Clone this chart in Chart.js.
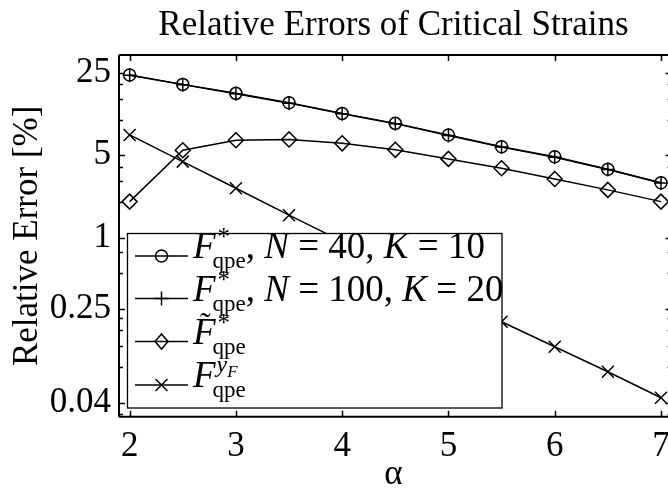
<!DOCTYPE html>
<html><head><meta charset="utf-8">
<script src="https://cdn.jsdelivr.net/npm/chart.js@4/dist/chart.umd.min.js"></script>
<style>html,body{margin:0;padding:0;background:#fff;}canvas{display:block;}</style>
</head><body>
<canvas id="c" width="668" height="489"></canvas>
<script>
// ---- data ----
const alpha = [2, 2.5, 3, 3.5, 4, 4.5, 5, 5.5, 6, 6.5, 7];
const errQpeN40K10  = [23.9, 19.9, 16.7, 13.9, 11.3, 9.3, 7.4, 5.9, 4.85, 3.8, 2.92];
const errQpeN100K20 = [23.8, 19.8, 16.6, 13.8, 11.2, 9.25, 7.35, 5.85, 4.8, 3.78, 2.9];
const errQpeTilde   = [2.02, 5.5, 6.7, 6.8, 6.3, 5.55, 4.65, 3.87, 3.14, 2.54, 2.02];
const errQpeYF      = [7.42, 4.41, 2.62, 1.55, 0.93, 0.55, 0.32, 0.194, 0.119, 0.073, 0.044];
const xTickValues = [2, 3, 4, 5, 6, 7];
const yTickValues = [0.04, 0.25, 1, 5, 25];
const yMinorTickValues = [20, 15, 10, 4, 3, 2, 0.75, 0.5, 0.21, 0.165, 0.12, 0.08, 0.032];
const seriesLabels = ['F*qpe, N = 40, K = 10', 'F*qpe, N = 100, K = 20', 'F̃*qpe', 'F^yF qpe'];
const titleText = 'Relative Errors of Critical Strains';
const xTitle = 'α';
const yTitle = 'Relative Error [%]';

const FAM = '"Liberation Serif", "Times New Roman", serif';
const toXY = arr => alpha.map((a, i) => ({x: a, y: arr[i]}));

function drawMarker(ctx, style, x, y) {
  ctx.beginPath();
  if (style === 'circle') { ctx.arc(x, y, 6, 0, Math.PI * 2); }
  else if (style === 'cross') { ctx.moveTo(x - 7, y); ctx.lineTo(x + 7, y); ctx.moveTo(x, y - 7); ctx.lineTo(x, y + 7); }
  else if (style === 'rectRot') { ctx.moveTo(x, y - 7.5); ctx.lineTo(x + 6.5, y); ctx.lineTo(x, y + 7.5); ctx.lineTo(x - 6.5, y); ctx.closePath(); }
  else { const d = 6; ctx.moveTo(x - d, y - d); ctx.lineTo(x + d, y + d); ctx.moveTo(x + d, y - d); ctx.lineTo(x - d, y + d); }
  ctx.stroke();
}

function piece(ctx, txt, x, y, font) { ctx.font = font; ctx.fillText(txt, x, y); return ctx.measureText(txt).width; }

const R = s => s + 'px ' + FAM;
const I = s => 'italic ' + s + 'px ' + FAM;

function drawLabel(ctx, row, x, base) {
  let w = piece(ctx, 'F', x, base, I(37));
  if (row === 2) { ctx.font = R(32); ctx.fillText('˜', x + 7, base - 10); }
  let supW = 0;
  if (row === 3) {
    supW = piece(ctx, 'y', x + w + 1, base - 15, I(24));
    supW += piece(ctx, 'F', x + w + 1 + supW, base - 10, I(17)) + 1;
  } else {
    supW = piece(ctx, '*', x + w + 2, base - 13, R(25)) + 2;
  }
  const subW = piece(ctx, 'qpe', x + w - 3, base + 10, R(23)) - 3;
  x += w + Math.max(supW, subW);
  if (row === 0 || row === 1) {
    const parts = row === 0
      ? [[', ', 0], ['N', 1], [' = 40, ', 0], ['K', 1], [' = 10', 0]]
      : [[', ', 0], ['N', 1], [' = 100, ', 0], ['K', 1], [' = 20', 0]];
    for (const [t, it] of parts) x += piece(ctx, t, x, base, it ? I(37) : R(37));
  }
}

const matlabDecor = {
  id: 'matlabDecor',
  afterDatasetsDraw(chart) {
    const {ctx, chartArea: a, scales: {x, y}} = chart;
    const rightEdge = x.getPixelForValue(7.1);
    ctx.save();
    ctx.strokeStyle = '#000';
    ctx.lineWidth = 1.5;
    ctx.beginPath();
    for (const v of xTickValues) {
      const px = Math.round(x.getPixelForValue(v)) + 0.5;
      ctx.moveTo(px, a.bottom); ctx.lineTo(px, a.bottom - 6);
      ctx.moveTo(px, a.top); ctx.lineTo(px, a.top + 6);
    }
    for (const v of yTickValues) {
      const py = Math.round(y.getPixelForValue(v)) + 0.5;
      ctx.moveTo(a.left, py); ctx.lineTo(a.left + 6, py);
      ctx.moveTo(rightEdge, py); ctx.lineTo(rightEdge - 6, py);
    }
    for (const v of yMinorTickValues) {
      const py = Math.round(y.getPixelForValue(v)) + 0.5;
      ctx.moveTo(a.left, py); ctx.lineTo(a.left + 4, py);
      ctx.moveTo(rightEdge, py); ctx.lineTo(rightEdge - 4, py);
    }
    ctx.stroke();
    ctx.lineWidth = 2;
    ctx.beginPath();
    ctx.moveTo(a.left, a.top); ctx.lineTo(rightEdge, a.top);
    ctx.moveTo(a.left, a.top); ctx.lineTo(a.left, a.bottom);
    ctx.moveTo(a.left, a.bottom); ctx.lineTo(rightEdge, a.bottom);
    ctx.stroke();

    // legend
    const L = 127.5, T = 233.5, Rr = 502, B = 408;
    ctx.fillStyle = '#fff';
    ctx.fillRect(L, T, Rr - L, B - T);
    ctx.lineWidth = 1.3;
    ctx.strokeRect(L, T, Rr - L, B - T);
    const rows = [256, 298.5, 341.5, 385];
    chart.data.datasets.forEach((ds, i) => {
      const ry = rows[i];
      ctx.lineWidth = 1.5;
      ctx.beginPath(); ctx.moveTo(135, ry); ctx.lineTo(188, ry); ctx.stroke();
      drawMarker(ctx, ds.pointStyle, 161.5, ry);
      ctx.fillStyle = '#000';
      ctx.textBaseline = 'alphabetic';
      ctx.textAlign = 'left';
      drawLabel(ctx, i, 193, ry + 2);
    });
    ctx.restore();
  }
};

const common = {borderColor: '#000', borderWidth: 1.5, pointBorderColor: '#000', pointBackgroundColor: 'rgba(0,0,0,0)', pointBorderWidth: 1.5, tension: 0, fill: false};

new Chart(document.getElementById('c'), {
  type: 'line',
  data: {
    datasets: [
      {...common, label: seriesLabels[0], data: toXY(errQpeN40K10), pointStyle: 'circle', pointRadius: 6},
      {...common, label: seriesLabels[1], data: toXY(errQpeN100K20), pointStyle: 'cross', pointRadius: 7},
      {...common, label: seriesLabels[2], data: toXY(errQpeTilde), pointStyle: 'rectRot', pointRadius: 7.5},
      {...common, label: seriesLabels[3], data: toXY(errQpeYF), pointStyle: 'crossRot', pointRadius: 8.5}
    ]
  },
  options: {
    responsive: false,
    animation: false,
    events: [],
    layout: {padding: 0, autoPadding: false},
    plugins: {
      legend: {display: false},
      tooltip: {enabled: false},
      title: {display: true, fullSize: false, text: titleText, color: '#000', font: {family: FAM, size: 35, weight: 'normal'}, padding: {top: 5, bottom: 8}}
    },
    scales: {
      x: {
        type: 'linear', min: 1.9, max: 7.066,
        afterBuildTicks: s => { s.ticks = xTickValues.map(v => ({value: v})); },
        afterFit: s => { s.height = 72.3; s.paddingLeft = 0; s.paddingRight = 0; },
        grid: {display: false, drawTicks: false},
        border: {display: false},
        ticks: {color: '#000', font: {family: FAM, size: 35}, padding: 9, maxRotation: 0, autoSkip: false},
        title: {display: true, text: xTitle, color: '#000', font: {family: FAM, size: 35, lineHeight: 0.8}, padding: {top: 0, bottom: 0}}
      },
      y: {
        type: 'logarithmic', min: 0.0304, max: 35.3,
        afterBuildTicks: s => { s.ticks = yTickValues.map(v => ({value: v})); },
        afterFit: s => { s.width = 119; s.paddingTop = 0; s.paddingBottom = 0; },
        grid: {display: false, drawTicks: false},
        border: {display: false},
        ticks: {color: '#000', font: {family: FAM, size: 35}, padding: 8, autoSkip: false, callback: v => String(v)},
        title: {display: true, text: yTitle, color: '#000', font: {family: FAM, size: 35}, padding: {top: 7, bottom: 0}}
      }
    }
  },
  plugins: [matlabDecor]
});
</script>
</body></html>
